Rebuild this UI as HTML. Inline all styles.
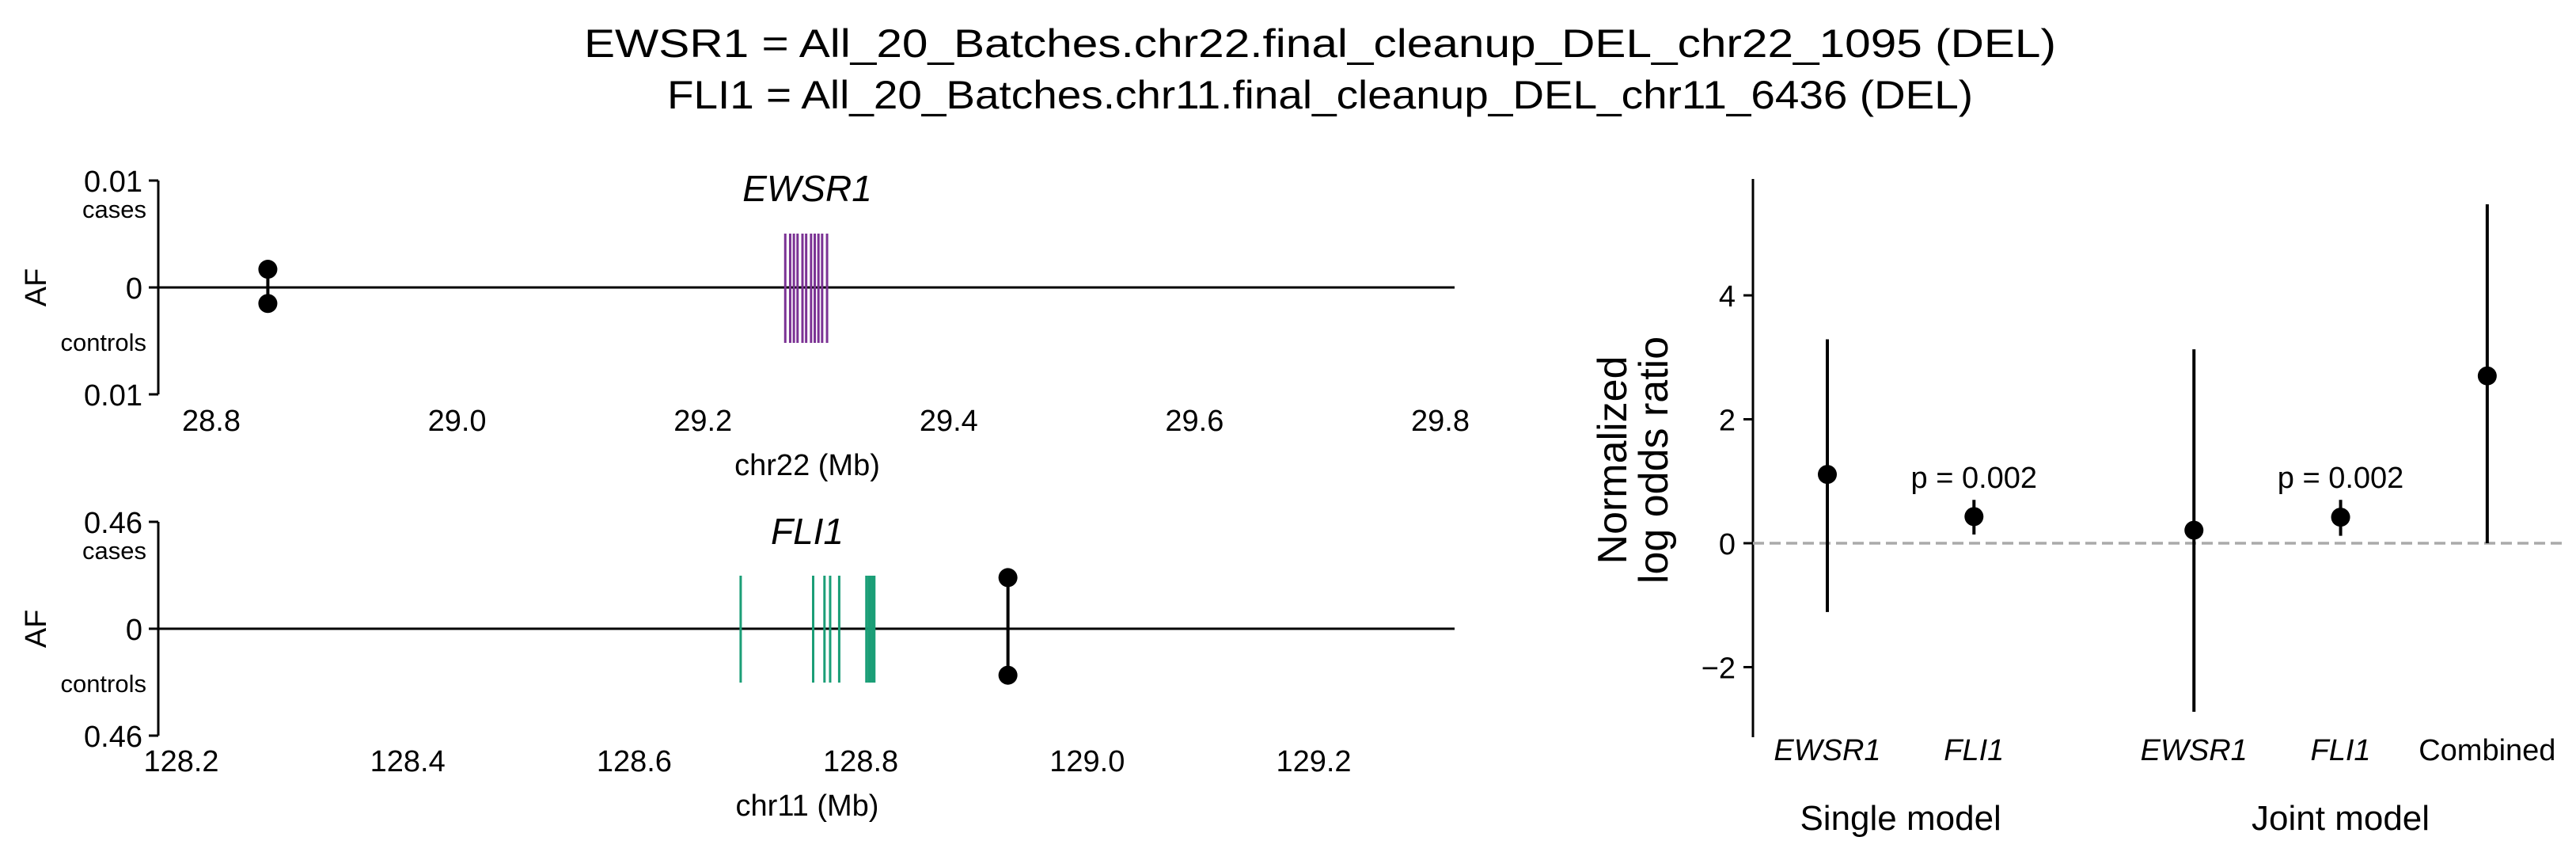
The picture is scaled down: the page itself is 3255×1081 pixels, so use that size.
<!DOCTYPE html>
<html><head><meta charset="utf-8">
<style>
html,body{margin:0;padding:0;background:#fff;}
svg{display:block;font-family:"Liberation Sans",Arial,sans-serif;}
</style></head>
<body>
<svg id="fig" width="3255" height="1081" viewBox="0 0 3255 1081" xmlns="http://www.w3.org/2000/svg">
<rect width="3255" height="1081" fill="#fff"/>
<text x="1668" y="72" font-size="50" text-anchor="middle" textLength="1860" lengthAdjust="spacingAndGlyphs">EWSR1 = All_20_Batches.chr22.final_cleanup_DEL_chr22_1095 (DEL)</text>
<text x="1668" y="137" font-size="50" text-anchor="middle" textLength="1650" lengthAdjust="spacingAndGlyphs">FLI1 = All_20_Batches.chr11.final_cleanup_DEL_chr11_6436 (DEL)</text>
<g id="top"></g>
<g id="bot"></g>
<g id="right"></g>
</svg>
<script>
// ---- data: EWSR1 locus ----
const topTicks = [28.8, 29.0, 29.2, 29.4, 29.6, 29.8];
const topExons = [29.267, 29.271, 29.274, 29.277, 29.281, 29.284, 29.288, 29.291, 29.294, 29.297, 29.301];
const topVariantPos = [28.846];
const topCaseAF = [0.0017];
const topCtrlAF = [0.0015];
const topAFmax = 0.01;
// ---- data: FLI1 locus ----
const botTicks = [128.2, 128.4, 128.6, 128.8, 129.0, 129.2];
const botExons = [128.694, 128.758, 128.768, 128.773, 128.781, 128.805, 128.807, 128.809, 128.811, 128.812];
const botVariantPos = [128.930];
const botCaseAF = [0.22];
const botCtrlAF = [0.20];
const botAFmax = 0.46;
// ---- data: odds ratios ----
const orCats = ["EWSR1", "FLI1", "EWSR1", "FLI1", "Combined"];
const orCatItalic = [true, true, true, true, false];
const orPos = [0, 1, 2.5, 3.5, 4.5];
const orVal = [1.11, 0.43, 0.21, 0.42, 2.70];
const orLo = [-1.11, 0.14, -2.72, 0.12, 0.0];
const orHi = [3.29, 0.70, 3.13, 0.70, 5.47];
const orPlabels = ["", "p = 0.002", "", "p = 0.002", ""];
const orYTicks = [-2, 0, 2, 4];
const orGroups = ["Single model", "Joint model"];
const orGroupPos = [0.5, 3.5];

const NS = "http://www.w3.org/2000/svg";
function mk(parent, tag, attrs, text) {
  const e = document.createElementNS(NS, tag);
  for (const k in attrs) e.setAttribute(k, attrs[k]);
  if (text !== undefined) e.textContent = text;
  parent.appendChild(e);
  return e;
}

function locus(g, cfg) {
  const xs = v => cfg.x0 + (v - cfg.t0) * cfg.pxPerMb;
  const ys = v => cfg.yZero - v / cfg.afMax * cfg.half;
  // spine
  let e = mk(g, "line", {x1: cfg.spineX, x2: cfg.spineX, y1: cfg.yZero - cfg.half, y2: cfg.yZero + cfg.half, stroke: "#000", "stroke-width": 3});
  
  
  [[-1, cfg.afMax], [0, 0], [1, cfg.afMax]].forEach(([s]) => {
    const yy = cfg.yZero + s * cfg.half;
    const t = mk(g, "line", {x1: cfg.spineX - 12, x2: cfg.spineX, y1: yy, y2: yy, stroke: "#000", "stroke-width": 3});
    
    
    const l = mk(g, "text", {x: cfg.spineX - 20, y: yy + 14, "font-size": 38, "text-anchor": "end"}, s === 0 ? "0" : String(cfg.afMax));
    
    
  });
  e = mk(g, "text", {x: cfg.spineX - 15, y: cfg.yZero - 88, "font-size": 31, "text-anchor": "end"}, "cases");
  
  
  e = mk(g, "text", {x: cfg.spineX - 15, y: cfg.yZero + 80, "font-size": 31, "text-anchor": "end"}, "controls");
  
  
  e = mk(g, "text", {x: 0, y: 0, "font-size": 38, "text-anchor": "middle", transform: `translate(58,${cfg.yZero}) rotate(-90)`}, "AF");
  
  
  // zero line
  e = mk(g, "line", {x1: cfg.spineX, x2: cfg.lineEnd, y1: cfg.yZero, y2: cfg.yZero, stroke: "#000", "stroke-width": 3});
  
  
  // x ticks labels
  cfg.ticks.forEach(t => {
    const l = mk(g, "text", {x: xs(t), y: cfg.tickY, "font-size": 38, "text-anchor": "middle"}, t.toFixed(1));
    
    
  });
  e = mk(g, "text", {x: 1020, y: cfg.xlabY, "font-size": 38, "text-anchor": "middle"}, cfg.xlab);
  
  
  e = mk(g, "text", {x: 1020, y: cfg.titleY, "font-size": 46, "font-style": "italic", "text-anchor": "middle"}, cfg.gene);
  
  
  // exons
  cfg.exons.forEach(p => {
    const l = mk(g, "line", {x1: xs(p), x2: xs(p), y1: cfg.exTop, y2: cfg.exBot, stroke: cfg.color, "stroke-width": 3});
    
    
  });
  // variants
  cfg.vpos.forEach((p, i) => {
    const x = xs(p), yc = ys(cfg.caseAF[i]), yt = ys(-cfg.ctrlAF[i]);
    const l = mk(g, "line", {x1: x, x2: x, y1: yc, y2: yt, stroke: "#000", "stroke-width": 4});
    
    
    const c1 = mk(g, "circle", {cx: x, cy: yc, r: 12, fill: "#000"});
    
    
    const c2 = mk(g, "circle", {cx: x, cy: yt, r: 12, fill: "#000"});
    
    
  });
}

locus(document.getElementById("top"), {x0: 267, t0: 28.8, pxPerMb: 1553, spineX: 200, lineEnd: 1838, yZero: 363, half: 135,
  afMax: topAFmax, ticks: topTicks, exons: topExons, vpos: topVariantPos, caseAF: topCaseAF, ctrlAF: topCtrlAF,
  color: "#7b3294", exTop: 295, exBot: 433, tickY: 544, xlabY: 600, titleY: 254, xlab: "chr22 (Mb)", gene: "EWSR1"});
locus(document.getElementById("bot"), {x0: 229, t0: 128.2, pxPerMb: 1431, spineX: 200, lineEnd: 1838, yZero: 794, half: 135,
  afMax: botAFmax, ticks: botTicks, exons: botExons, vpos: botVariantPos, caseAF: botCaseAF, ctrlAF: botCtrlAF,
  color: "#1b9e77", exTop: 727, exBot: 862, tickY: 974, xlabY: 1030, titleY: 687, xlab: "chr11 (Mb)", gene: "FLI1"});

// ---- right panel ----
(function () {
  const g = document.getElementById("right");
  const xs = v => 2309 + v * 185.3;
  const ys = v => 686 - v * 78.25;
  let e = mk(g, "line", {x1: 2215, x2: 2215, y1: 226, y2: 931, stroke: "#000", "stroke-width": 3});
  
  
  orYTicks.forEach(t => {
    const l = mk(g, "line", {x1: 2203, x2: 2215, y1: ys(t), y2: ys(t), stroke: "#000", "stroke-width": 3});
    
    
    const tx = mk(g, "text", {x: 2193, y: ys(t) + 14, "font-size": 38, "text-anchor": "end"}, t < 0 ? "\u2212" + Math.abs(t) : String(t));
    
    
  });
  e = mk(g, "text", {x: 0, y: 0, "font-size": 52, "text-anchor": "middle", transform: "translate(2055,581) rotate(-90)"}, "Normalized");
  
  
  e = mk(g, "text", {x: 0, y: 0, "font-size": 52, "text-anchor": "middle", transform: "translate(2107,581) rotate(-90)"}, "log odds ratio");
  
  
  e = mk(g, "line", {x1: 2215, x2: 3240, y1: ys(0), y2: ys(0), stroke: "#aaaaaa", "stroke-width": 3.5, "stroke-dasharray": "14 7"});
  
  
  orCats.forEach((c, i) => {
    const x = xs(orPos[i]);
    const l = mk(g, "line", {x1: x, x2: x, y1: ys(orHi[i]), y2: ys(orLo[i]), stroke: "#000", "stroke-width": 4});
    
    
    const p = mk(g, "circle", {cx: x, cy: ys(orVal[i]), r: 12, fill: "#000"});
    
    
    const t = mk(g, "text", {x: x, y: 960, "font-size": 38, "text-anchor": "middle", "font-style": orCatItalic[i] ? "italic" : "normal"}, c);
    
    
    if (orPlabels[i]) {
      const pl = mk(g, "text", {x: x, y: 616, "font-size": 38, "text-anchor": "middle"}, orPlabels[i]);
      
      
    }
  });
  orGroups.forEach((gname, i) => {
    const t = mk(g, "text", {x: xs(orGroupPos[i]), y: 1048, "font-size": 44, "text-anchor": "middle"}, gname);
    
    
  });
})();
</script>
</body></html>
